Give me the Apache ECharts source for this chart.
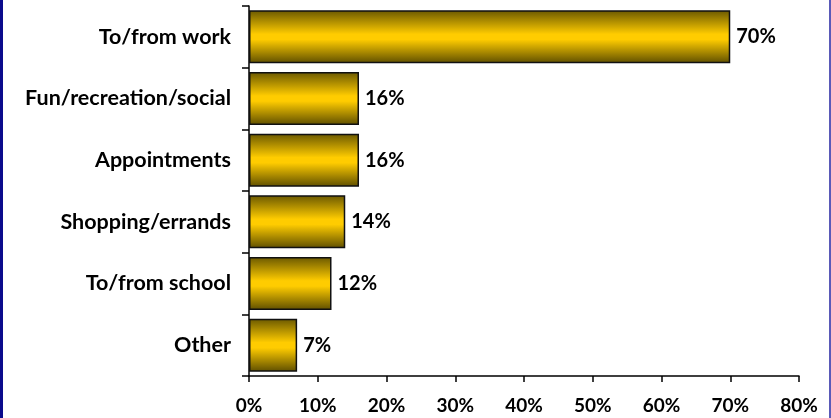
<!DOCTYPE html>
<html>
<head>
<meta charset="utf-8">
<script src="https://cdn.jsdelivr.net/npm/echarts@6/dist/echarts.min.js"></script>
<style>
  html, body { margin: 0; padding: 0; background: #ffffff; }
  #chart { width: 831px; height: 418px; }
</style>
</head>
<body>
<div id="chart"></div>
<script>
// Trip purposes, listed bottom-to-top as the category axis draws them
const categories = ['Other', 'To/from school', 'Shopping/errands', 'Appointments', 'Fun/recreation/social', 'To/from work'];
const shares = [7, 12, 14, 16, 16, 70];
const axisMax = 80;
const axisStep = 10;

const FONT = 'Lato, "Open Sans", sans-serif';

// Gold cylinder look: dark at the edges, bright yellow in the middle
const goldFill = new echarts.graphic.LinearGradient(0, 0, 0, 1, [
  { offset: 0, color: '#6a5800' },
  { offset: 0.45, color: '#ffcc00' },
  { offset: 0.55, color: '#ffcc00' },
  { offset: 1, color: '#5e4e00' }
]);

const chart = echarts.init(document.getElementById('chart'), null, { renderer: 'canvas' });

chart.setOption({
  animation: false,
  backgroundColor: '#ffffff',
  grid: { left: 249, right: 32, top: 6, bottom: 42, containLabel: false },
  xAxis: {
    type: 'value',
    min: 0,
    max: axisMax,
    interval: axisStep,
    axisLine: { show: true, lineStyle: { color: '#000', width: 1.5 } },
    axisTick: { show: true, length: 6, lineStyle: { color: '#000', width: 1.5 } },
    splitLine: { show: false },
    axisLabel: {
      formatter: '{value}%',
      color: '#000',
      fontFamily: FONT,
      fontWeight: 'bold',
      fontSize: 19,
      margin: 20
    }
  },
  yAxis: {
    type: 'category',
    data: categories,
    axisLine: { show: true, lineStyle: { color: '#000', width: 1.5 } },
    axisTick: { show: true, length: 7, alignWithLabel: false, lineStyle: { color: '#000', width: 1.5 } },
    splitLine: { show: false },
    axisLabel: {
      color: '#000',
      fontFamily: FONT,
      fontWeight: 'bold',
      fontSize: 21.5,
      margin: 18
    }
  },
  series: [{
    type: 'bar',
    data: shares,
    barCategoryGap: '14%',
    itemStyle: {
      color: goldFill,
      borderColor: '#111',
      borderWidth: 1.5
    },
    label: {
      show: true,
      position: 'right',
      distance: 6,
      formatter: '{c}%',
      color: '#000',
      fontFamily: FONT,
      fontWeight: 'bold',
      fontSize: 20
    }
  }],
  graphic: [
    { type: 'rect', left: 0, top: 0, shape: { width: 3, height: 418 }, style: { fill: '#0a0a8c' }, silent: true },
    { type: 'rect', left: 829, top: 0, shape: { width: 2, height: 418 }, style: { fill: '#5a5ab8' }, silent: true }
  ]
});
</script>
</body>
</html>
